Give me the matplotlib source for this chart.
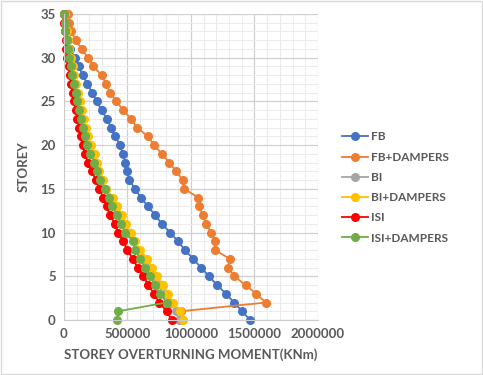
import numpy as np
import matplotlib
matplotlib.use('Agg')
from matplotlib import pyplot as plt
from matplotlib.ticker import MultipleLocator, FuncFormatter

plt.rcParams['font.family'] = ['Lato', 'DejaVu Sans']

storey = list(range(36))

# storey overturning moment in kNm, storey 0 -> 35
fb = [1465000, 1402000, 1339000, 1276000, 1205000, 1142000, 1079000, 1016000, 953000, 898000,
      835000, 772000, 717000, 661000, 606000, 559000, 515000, 500000, 484000, 462000,
      441000, 404000, 373000, 336000, 297000, 257000, 223000, 184000, 147000, 115000,
      84000, 47000, 34000, 16000, 8000, 3000]
fb_dampers = [930000, 920000, 1590000, 1512000, 1430000, 1340000, 1294000, 1305000, 1189000, 1190000,
              1156000, 1120000, 1093000, 1063000, 1058000, 946000, 935000, 885000, 829000, 772000,
              709000, 664000, 572000, 528000, 467000, 412000, 365000, 331000, 297000, 231000,
              189000, 139000, 94000, 53000, 39000, 31000]
bi = [905000, 880000, 845000, 805000, 765000, 718000, 678000, 640000, 585000, 550000,
      510000, 470000, 440000, 405000, 372000, 328000, 298000, 268000, 248000, 228000,
      198000, 178000, 160000, 145000, 131000, 116000, 101000, 86000, 72000, 60000,
      48000, 38000, 26000, 14000, 6000, 3000]
bi_dampers = [935000, 913000, 861000, 817000, 777000, 730000, 691000, 656000, 598000, 559000,
              525000, 488000, 459000, 420000, 388000, 331000, 309000, 278000, 257000, 244000,
              210000, 189000, 173000, 157000, 142000, 126000, 110000, 94000, 79000, 67000,
              55000, 43000, 31000, 20000, 8000, 4000]
isi = [848000, 809000, 750000, 709000, 664000, 624000, 580000, 541000, 498000, 467000,
       428000, 402000, 362000, 336000, 309000, 278000, 252000, 217000, 189000, 165000,
       146000, 132000, 118000, 105000, 92000, 79000, 68000, 57000, 46000, 36000,
       27000, 19000, 12000, 7000, 3000, 1000]
isi_dampers = [415000, 428000, 808000, 756000, 717000, 677000, 638000, 598000, 559000, 546000,
               480000, 446000, 415000, 380000, 354000, 323000, 283000, 257000, 239000, 205000,
               183000, 165000, 147000, 134000, 120000, 105000, 92000, 79000, 65000, 53000,
               42000, 34000, 21000, 10000, 5000, 3000]

series = [('FB', fb, '#4472C4'),
          ('FB+DAMPERS', fb_dampers, '#ED7D31'),
          ('BI', bi, '#A5A5A5'),
          ('BI+DAMPERS', bi_dampers, '#FFC000'),
          ('ISI', isi, '#FF0000'),
          ('ISI+DAMPERS', isi_dampers, '#70AD47')]

fig = plt.figure(figsize=(4.83, 3.75), dpi=100)
ax = fig.add_axes([64 / 483, 1 - 320 / 375, 254 / 483, 306 / 375])

for name, vals, col in series:
    ax.plot(vals, storey, color=col, lw=1.3, marker='o', ms=5.5, label=name, clip_on=False)

ax.set_xlim(0, 2000000)
ax.set_ylim(0, 35)
ax.xaxis.set_major_locator(MultipleLocator(500000))
ax.xaxis.set_minor_locator(MultipleLocator(100000))
ax.xaxis.set_major_formatter(FuncFormatter(lambda v, p: '%d' % v))
ax.yaxis.set_major_locator(MultipleLocator(5))
ax.yaxis.set_minor_locator(MultipleLocator(1))
ax.grid(which='major', color='#d0d0d0', lw=0.9)
ax.grid(which='minor', color='#ebebeb', lw=0.7)
ax.set_axisbelow(True)
for s in ['top', 'right']:
    ax.spines[s].set_visible(False)
for s in ['left', 'bottom']:
    ax.spines[s].set_color('#cccccc')
ax.tick_params(which='both', length=0, colors='#595959', labelsize=9.5, pad=6)
for lab in ax.get_xticklabels() + ax.get_yticklabels():
    lab.set_fontweight('bold')
ax.set_xlabel('STOREY OVERTURNING MOMENT(KNm)', color='#595959', fontsize=9.5, fontweight='bold', labelpad=6)
ax.set_ylabel('STOREY', color='#595959', fontsize=9.5, fontweight='bold', labelpad=8)

leg = ax.legend(loc='center left', bbox_to_anchor=(1.095, 0.433), frameon=False, fontsize=8.5,
                labelspacing=0.78, handlelength=2.2, handletextpad=0.25, markerscale=1,
                borderaxespad=0, borderpad=0)
for t in leg.get_texts():
    t.set_color('#595959')
    t.set_fontweight('bold')

fig.patches.append(plt.Rectangle((0.002, 0.003), 0.996, 0.994, transform=fig.transFigure,
                                 fill=False, edgecolor='#d9d9d9', lw=1))
fig.savefig('out.png', dpi=100)
